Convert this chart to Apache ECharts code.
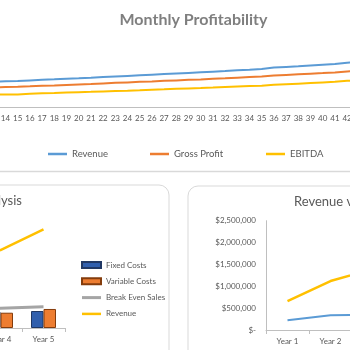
<!DOCTYPE html>
<html>
<head>
<meta charset="utf-8">
<script src="https://cdn.jsdelivr.net/npm/echarts@6/dist/echarts.min.js"></script>
<style>
  html, body { margin: 0; padding: 0; background: #fff; }
  #chart { width: 350px; height: 350px; }
</style>
</head>
<body>
<div id="chart"></div>
<script>
// monthly profitability (months 13..43 are visible)
const months = ['13','14','15','16','17','18','19','20','21','22','23','24','25','26','27','28',
  '29','30','31','32','33','34','35','36','37','38','39','40','41','42','43'];
const monthlyRevenue = [88900, 90300, 91000, 93400, 95500, 97300, 99400, 100800, 102500, 105000,
  107100, 109200, 111300, 113400, 115500, 117600, 119700, 121800, 123900, 126000, 128800, 130900,
  133300, 138200, 140700, 142800, 145600, 148400, 151200, 155400, 158200];
const monthlyGrossProfit = [68600, 70000, 70700, 72400, 74200, 75600, 77300, 79100, 80500, 82600,
  84700, 86400, 88200, 89900, 91700, 93400, 95200, 96900, 99000, 100800, 102900, 105000, 107100,
  110600, 112700, 114800, 116900, 119000, 121400, 124600, 126700];
const monthlyEbitda = [43400, 43700, 44100, 46200, 47900, 49000, 50700, 52100, 53200, 54600,
  56000, 57000, 58400, 60200, 61900, 63700, 65100, 66500, 68200, 70000, 71700, 73500, 74900,
  77700, 79800, 81900, 84000, 86100, 88200, 91700, 93800];

// yearly figures
const years = ['Year 1', 'Year 2', 'Year 3', 'Year 4', 'Year 5'];
const fixedCosts = [300000, 310000, 325000, 340000, 351000];
const variableCosts = [130000, 220000, 270000, 316000, 393000];
const breakEvenSales = [380000, 390000, 400000, 407000, 440000];
const annualRevenue = [663000, 1120000, 1400000, 1610000, 2040000];
const annualProfit = [222000, 336000, 350000, 420000, 520000];

const txt = '#595959';
const axisGrey = '#bfbfbf';
const font = 'Lato';

let myChart = echarts.init(document.getElementById('chart'));

const lineItem = (name, data, color, width, xi) => ({
  name: name,
  type: 'line',
  xAxisIndex: xi,
  yAxisIndex: xi,
  data: data,
  symbol: 'none',
  smooth: false,
  lineStyle: { color: color, width: width },
  itemStyle: { color: color }
});

const moneyLabel = v => v === 0 ? '$-' : '$' + v.toLocaleString('en-US');
const lineIcon = h => 'path://M0,0 L19,0 L19,' + h + ' L0,' + h + ' Z';

let option = {
  backgroundColor: '#fff',
  animation: false,
  textStyle: { fontFamily: font },
  graphic: [
    { type: 'text', x: 193.5, y: 20,
      style: { text: 'Monthly Profitability', align: 'center', verticalAlign: 'middle',
        fill: '#7f7f7f', font: 'bold 16px ' + font } },
    { type: 'line', shape: { x1: 0, y1: 171.5, x2: 350, y2: 171.5 },
      style: { stroke: '#d9d9d9', lineWidth: 1.5 } },
    { type: 'rect', shape: { x: -30, y: 185, width: 199, height: 220, r: 10 },
      style: { stroke: '#d9d9d9', lineWidth: 1, fill: 'none' } },
    { type: 'rect', shape: { x: 188, y: 186, width: 220, height: 220, r: 10 },
      style: { stroke: '#d9d9d9', lineWidth: 1, fill: 'none' } },
    { type: 'text', x: 22, y: 201,
      style: { text: 'Break Even Analysis', align: 'right', verticalAlign: 'middle',
        fill: txt, font: '13px ' + font } },
    { type: 'text', x: 294, y: 202,
      style: { text: 'Revenue vs Profit', align: 'left', verticalAlign: 'middle',
        fill: txt, font: '13px ' + font } }
  ],
  grid: [
    { left: -12.8, top: 50, width: 378.2, height: 57, outerBoundsMode: 'none' },
    { left: -150, top: 207, width: 215, height: 121, outerBoundsMode: 'none' },
    { left: 266, top: 220.7, width: 215, height: 109.3, outerBoundsMode: 'none' }
  ],
  xAxis: [
    { gridIndex: 0, type: 'category', data: months,
      axisLine: { lineStyle: { color: axisGrey } },
      axisTick: { show: false },
      axisLabel: { color: txt, fontSize: 8, margin: 7, interval: 0 } },
    { gridIndex: 1, type: 'category', data: years,
      axisLine: { lineStyle: { color: axisGrey } },
      axisTick: { show: true, length: 4, lineStyle: { color: axisGrey } },
      axisLabel: { color: txt, fontSize: 8, margin: 7 } },
    { gridIndex: 2, type: 'category', data: years,
      axisLine: { lineStyle: { color: axisGrey } },
      axisTick: { show: true, length: 4, lineStyle: { color: axisGrey } },
      axisLabel: { color: txt, fontSize: 8, margin: 7 } }
  ],
  yAxis: [
    { gridIndex: 0, type: 'value', min: 0, max: 200000, show: false, splitLine: { show: false } },
    { gridIndex: 1, type: 'value', min: 0, max: 2500000, show: false, splitLine: { show: false } },
    { gridIndex: 2, type: 'value', min: 0, max: 2500000, interval: 500000,
      axisLine: { show: true, lineStyle: { color: axisGrey } },
      axisTick: { show: false },
      splitLine: { show: false },
      axisLabel: { color: txt, fontSize: 8, margin: 10, formatter: moneyLabel } }
  ],
  legend: [
    { data: [{ name: 'Revenue', icon: lineIcon(2.5) }], left: 43, top: 144,
      itemWidth: 19, itemHeight: 10, textStyle: { color: txt, fontSize: 9.5 } },
    { data: [{ name: 'Gross Profit', icon: lineIcon(2.5) }], left: 145, top: 144,
      itemWidth: 19, itemHeight: 10, textStyle: { color: txt, fontSize: 9.5 } },
    { data: [{ name: 'EBITDA', icon: lineIcon(2.5) }], left: 261, top: 144,
      itemWidth: 19, itemHeight: 10, textStyle: { color: txt, fontSize: 9.5 } },
    { data: [{ name: 'Fixed Costs', icon: 'rect' }, { name: 'Variable Costs', icon: 'rect' },
        { name: 'Break Even Sales', icon: lineIcon(3) },
        { name: 'Revenue ', icon: lineIcon(2.5) }],
      orient: 'vertical', left: 76, top: 256, itemWidth: 19, itemHeight: 6, itemGap: 8.3,
      textStyle: { color: txt, fontSize: 8 } }
  ],
  series: [
    lineItem('Revenue', monthlyRevenue, '#5b9bd5', 2, 0),
    lineItem('Gross Profit', monthlyGrossProfit, '#ed7d31', 2, 0),
    lineItem('EBITDA', monthlyEbitda, '#ffc000', 2, 0),
    { name: 'Fixed Costs', type: 'bar', xAxisIndex: 1, yAxisIndex: 1, data: fixedCosts,
      barWidth: 12.5, barGap: '0%',
      itemStyle: { color: '#305fad', borderColor: '#203864', borderWidth: 1 } },
    { name: 'Variable Costs', type: 'bar', xAxisIndex: 1, yAxisIndex: 1, data: variableCosts,
      barWidth: 12.5, barGap: '0%',
      itemStyle: { color: '#ed7d31', borderColor: '#843c0c', borderWidth: 1 } },
    lineItem('Break Even Sales', breakEvenSales, '#a5a5a5', 3, 1),
    lineItem('Revenue ', annualRevenue, '#ffc000', 2.5, 1),
    lineItem('Annual Revenue', annualRevenue, '#ffc000', 2.5, 2),
    lineItem('Annual Profit', annualProfit, '#5b9bd5', 2, 2)
  ]
};

option && myChart.setOption(option);
</script>
</body>
</html>
